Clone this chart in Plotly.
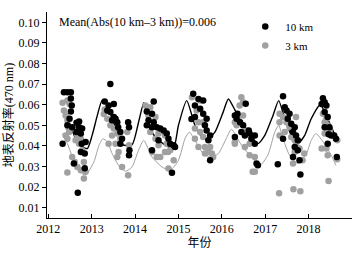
import plotly.graph_objects as go

# ---- data ----
x10 = [2012.36, 2012.44, 2012.52, 2012.52, 2012.54, 2012.52, 2012.49, 2012.44, 2012.33, 2012.55,
       2012.65, 2012.71, 2012.71, 2012.65, 2012.75, 2012.78, 2012.86, 2012.77, 2012.75, 2012.84,
       2012.59, 2012.84, 2012.68,
       2013.30, 2013.39, 2013.51, 2013.36, 2013.43, 2013.51, 2013.55, 2013.59, 2013.47, 2013.61,
       2013.66, 2013.70, 2013.66, 2013.84, 2013.86, 2013.87, 2013.86, 2013.43,
       2014.43, 2014.27, 2014.39, 2014.31, 2014.43, 2014.27, 2014.39, 2014.50, 2014.58, 2014.66,
       2014.73, 2014.77, 2014.81, 2014.89, 2014.92, 2014.39, 2014.85, 2014.54,
       2015.34, 2015.46, 2015.57, 2015.38, 2015.50, 2015.38, 2015.57, 2015.65, 2015.30, 2015.61,
       2015.65, 2015.73, 2015.69, 2015.73,
       2016.30, 2016.34, 2016.42, 2016.49, 2016.45, 2016.53, 2016.36, 2016.62, 2016.64, 2016.76,
       2016.68, 2016.76, 2016.80, 2016.83, 2016.30, 2016.55,
       2017.41, 2017.45, 2017.49, 2017.56, 2017.52, 2017.60, 2017.68, 2017.64, 2017.71, 2017.75,
       2017.68, 2017.75, 2017.64, 2017.79, 2017.29, 2017.81, 2017.41,
       2018.33, 2018.37, 2018.30, 2018.41, 2018.37, 2018.44, 2018.37, 2018.48, 2018.52, 2018.59,
       2018.63, 2018.44, 2018.65, 2018.46]
y10 = [0.0660, 0.0660, 0.0660, 0.0630, 0.0596, 0.0567, 0.0532, 0.0500, 0.0411, 0.0491,
       0.0512, 0.0519, 0.0491, 0.0467, 0.0460, 0.0484, 0.0419, 0.0411, 0.0370, 0.0363,
       0.0315, 0.0292, 0.0172,
       0.0615, 0.0596, 0.0604, 0.0572, 0.0564, 0.0540, 0.0532, 0.0515, 0.0524, 0.0491,
       0.0467, 0.0435, 0.0411, 0.0515, 0.0491, 0.0379, 0.0355, 0.0700,
       0.0615, 0.0567, 0.0556, 0.0524, 0.0515, 0.0500, 0.0491, 0.0491, 0.0484, 0.0475,
       0.0460, 0.0435, 0.0411, 0.0403, 0.0395, 0.0379, 0.0270, 0.0427,
       0.0653, 0.0628, 0.0620, 0.0596, 0.0580, 0.0540, 0.0556, 0.0532, 0.0530, 0.0500,
       0.0475, 0.0451, 0.0427, 0.0330,
       0.0548, 0.0532, 0.0515, 0.0500, 0.0467, 0.0451, 0.0556, 0.0475, 0.0460, 0.0451,
       0.0435, 0.0411, 0.0315, 0.0306, 0.0443, 0.0605,
       0.0641, 0.0588, 0.0572, 0.0556, 0.0532, 0.0508, 0.0491, 0.0467, 0.0451, 0.0427,
       0.0395, 0.0379, 0.0346, 0.0330, 0.0311, 0.0261, 0.0435,
       0.0631, 0.0612, 0.0604, 0.0596, 0.0564, 0.0540, 0.0491, 0.0491, 0.0451, 0.0451,
       0.0435, 0.0411, 0.0346, 0.0456]

x3 = [2012.33, 2012.44, 2012.49, 2012.36, 2012.40, 2012.44, 2012.46, 2012.48, 2012.40, 2012.44,
      2012.59, 2012.67, 2012.75, 2012.63, 2012.71, 2012.55, 2012.61, 2012.67, 2012.75, 2012.82,
      2012.86, 2012.82, 2012.44, 2012.78,
      2013.30, 2013.36, 2013.43, 2013.51, 2013.59, 2013.47, 2013.66, 2013.55, 2013.39, 2013.62,
      2013.59, 2013.70, 2013.84, 2013.86, 2013.82, 2013.28,
      2014.35, 2014.24, 2014.31, 2014.47, 2014.35, 2014.54, 2014.69, 2014.47, 2014.73, 2014.54,
      2014.81, 2014.69, 2014.76, 2014.50, 2014.58, 2014.89, 2014.77, 2014.39,
      2015.31, 2015.50, 2015.42, 2015.46, 2015.57, 2015.38, 2015.50, 2015.57, 2015.38, 2015.46,
      2015.61, 2015.73, 2015.69, 2015.77, 2015.61, 2015.80,
      2016.45, 2016.49, 2016.41, 2016.49, 2016.30, 2016.34, 2016.38, 2016.30, 2016.53, 2016.58,
      2016.64, 2016.64, 2016.76, 2016.71, 2016.76, 2016.30,
      2017.33, 2017.41, 2017.33, 2017.49, 2017.71, 2017.56, 2017.33, 2017.45, 2017.60, 2017.68,
      2017.71, 2017.79, 2017.68, 2017.90, 2017.64, 2017.86, 2017.32, 2017.65, 2017.81,
      2018.33, 2018.41, 2018.37, 2018.44, 2018.30, 2018.41, 2018.44, 2018.66, 2018.66, 2018.48,
      2018.46, 2018.37]
y3 = [0.0610, 0.0620, 0.0604, 0.0572, 0.0548, 0.0524, 0.0491, 0.0467, 0.0451, 0.0435,
      0.0484, 0.0451, 0.0435, 0.0427, 0.0411, 0.0346, 0.0322, 0.0298, 0.0282, 0.0322,
      0.0274, 0.0242, 0.0271, 0.0379,
      0.0577, 0.0532, 0.0500, 0.0484, 0.0460, 0.0451, 0.0435, 0.0411, 0.0411, 0.0370,
      0.0346, 0.0298, 0.0258, 0.0403, 0.0467, 0.0555,
      0.0588, 0.0596, 0.0548, 0.0540, 0.0467, 0.0460, 0.0451, 0.0435, 0.0411, 0.0403,
      0.0379, 0.0370, 0.0370, 0.0346, 0.0346, 0.0330, 0.0290, 0.0370,
      0.0636, 0.0620, 0.0572, 0.0515, 0.0515, 0.0484, 0.0467, 0.0443, 0.0435, 0.0395,
      0.0395, 0.0395, 0.0370, 0.0363, 0.0363, 0.0346,
      0.0636, 0.0612, 0.0596, 0.0548, 0.0515, 0.0500, 0.0524, 0.0419, 0.0395, 0.0475,
      0.0411, 0.0355, 0.0346, 0.0274, 0.0274, 0.0411,
      0.0556, 0.0540, 0.0515, 0.0515, 0.0540, 0.0491, 0.0451, 0.0467, 0.0443, 0.0427,
      0.0403, 0.0387, 0.0370, 0.0363, 0.0315, 0.0330, 0.0170, 0.0190, 0.0180,
      0.0556, 0.0532, 0.0515, 0.0500, 0.0387, 0.0387, 0.0355, 0.0427, 0.0335, 0.0475,
      0.0230, 0.0460]

line10_x = [2012.33, 2012.48, 2012.63, 2012.78, 2012.90, 2013.01, 2013.13, 2013.24, 2013.36, 2013.47,
            2013.62, 2013.70, 2013.93, 2014.08, 2014.20, 2014.26, 2014.39, 2014.54, 2014.77, 2014.89,
            2015.00, 2015.19, 2015.38, 2015.54, 2015.65, 2015.84, 2016.03, 2016.15, 2016.30, 2016.45,
            2016.65, 2016.83, 2016.99, 2017.18, 2017.31, 2017.45, 2017.60, 2017.75, 2017.91, 2018.06,
            2018.27, 2018.44, 2018.56, 2018.67]
line10_y = [0.0583, 0.0515, 0.0435, 0.0395, 0.0387, 0.0451, 0.0548, 0.0620, 0.0604, 0.0532,
            0.0451, 0.0406, 0.0406, 0.0515, 0.0610, 0.0564, 0.0467, 0.0427, 0.0395, 0.0390,
            0.0500, 0.0620, 0.0500, 0.0443, 0.0430, 0.0467, 0.0564, 0.0628, 0.0575, 0.0522,
            0.0455, 0.0411, 0.0451, 0.0548, 0.0620, 0.0532, 0.0451, 0.0411, 0.0451, 0.0532,
            0.0600, 0.0532, 0.0475, 0.0427]

line3_x = [2012.33, 2012.44, 2012.59, 2012.78, 2012.86, 2013.05, 2013.17, 2013.26, 2013.36, 2013.47,
           2013.62, 2013.78, 2013.93, 2014.08, 2014.20, 2014.39, 2014.62, 2014.81, 2015.00, 2015.15,
           2015.25, 2015.38, 2015.57, 2015.73, 2015.92, 2016.10, 2016.22, 2016.45, 2016.70, 2016.88,
           2017.06, 2017.22, 2017.31, 2017.41, 2017.56, 2017.75, 2017.95, 2018.06, 2018.17, 2018.36,
           2018.52, 2018.63]
line3_y = [0.0460, 0.0411, 0.0330, 0.0266, 0.0258, 0.0322, 0.0403, 0.0435, 0.0419, 0.0363,
           0.0306, 0.0277, 0.0298, 0.0379, 0.0427, 0.0346, 0.0298, 0.0282, 0.0330, 0.0435,
           0.0467, 0.0427, 0.0363, 0.0346, 0.0363, 0.0435, 0.0480, 0.0405, 0.0340, 0.0306,
           0.0355, 0.0467, 0.0500, 0.0435, 0.0355, 0.0315, 0.0363, 0.0427, 0.0460, 0.0411,
           0.0355, 0.0306]

x_ticks = [2012, 2013, 2014, 2015, 2016, 2017, 2018, 2019]
x_ticklabels = ["2012", "2013", "2014", "2015", "2016", "2017", "2018", ""]
y_ticks = [0.01, 0.02, 0.03, 0.04, 0.05, 0.06, 0.07, 0.08, 0.09, 0.10]
y_ticklabels = ["0.01", "0.02", "0.03", "0.04", "0.05", "0.06", "0.07", "0.08", "0.09", "0.10"]

FONT = "Liberation Serif, Times New Roman, Noto Sans CJK SC, serif"
GRAY = "#a0a0a0"

fig = go.Figure()
fig.add_trace(go.Scatter(x=line10_x, y=line10_y, mode="lines", showlegend=False,
                         line=dict(color="black", width=1.4, shape="spline", smoothing=0.6)))
fig.add_trace(go.Scatter(x=line3_x, y=line3_y, mode="lines", showlegend=False,
                         line=dict(color=GRAY, width=1.0, shape="spline", smoothing=0.6)))
fig.add_trace(go.Scatter(x=x3, y=y3, mode="markers", name="3 km", legendrank=2,
                         marker=dict(color=GRAY, size=6.5, line=dict(width=0))))
fig.add_trace(go.Scatter(x=x10, y=y10, mode="markers", name="10 km", legendrank=1,
                         marker=dict(color="black", size=6.5, line=dict(width=0))))

fig.add_annotation(x=0.033, y=0.951, xref="paper", yref="paper", xanchor="left", yanchor="middle",
                   text="Mean(Abs(10 km–3 km))=0.006", showarrow=False,
                   font=dict(family=FONT, size=12, color="black"))

fig.update_layout(
    width=358, height=253,
    margin=dict(l=47, r=6, t=12, b=35, autoexpand=False),
    paper_bgcolor="white", plot_bgcolor="white",
    font=dict(family=FONT, size=12, color="black"),
    legend=dict(x=0.65, y=1.0, xanchor="left", yanchor="top", bgcolor="rgba(0,0,0,0)",
                font=dict(family=FONT, size=11), tracegroupgap=0, itemwidth=30),
    xaxis=dict(range=[2011.97, 2019.0], tickmode="array", tickvals=x_ticks, ticktext=x_ticklabels,
               ticks="inside", ticklen=4, tickcolor="black", showline=True, linecolor="black",
               linewidth=1, showgrid=False, zeroline=False, automargin=False,
               tickfont=dict(size=12),
               title=dict(text="年份", font=dict(size=12), standoff=2)),
    yaxis=dict(range=[0.005, 0.105], tickmode="array", tickvals=y_ticks, ticktext=y_ticklabels,
               ticks="outside", ticklen=4, tickcolor="black", showline=True, linecolor="black",
               linewidth=1, showgrid=False, zeroline=False, automargin=False,
               tickfont=dict(size=12),
               title=dict(text="地表反射率(470 nm)", font=dict(size=12), standoff=2)),
)

fig.write_html("out.html", config={"displayModeBar": False},
               post_script="document.body.style.margin='0';")
